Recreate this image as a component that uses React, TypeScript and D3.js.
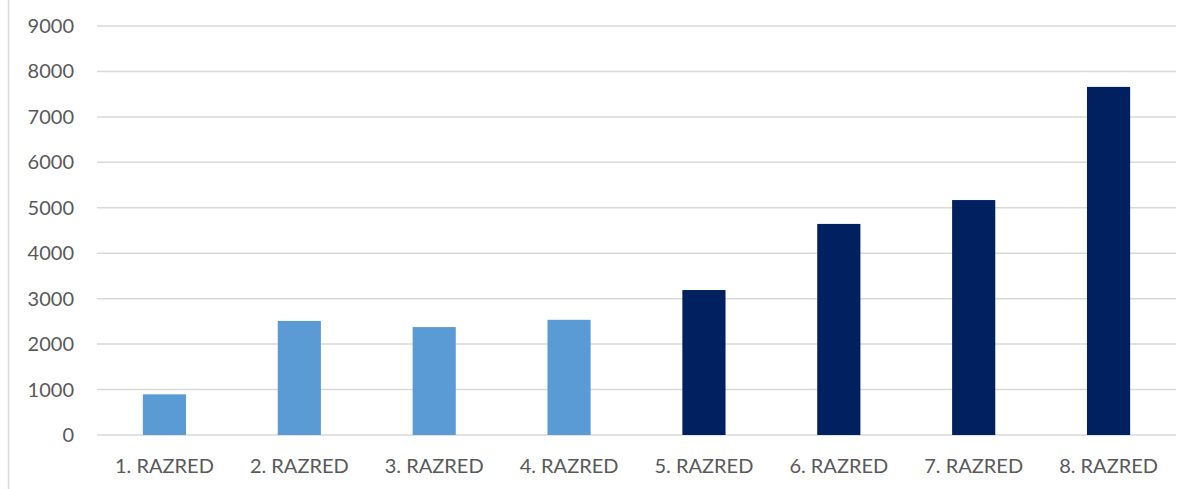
import React from "react";
import * as d3 from "d3";

const categories = ["1. RAZRED", "2. RAZRED", "3. RAZRED", "4. RAZRED", "5. RAZRED", "6. RAZRED", "7. RAZRED", "8. RAZRED"];
const values = [895, 2510, 2375, 2535, 3190, 4645, 5170, 7660];
const barColors = ["#5B9BD5", "#5B9BD5", "#5B9BD5", "#5B9BD5", "#002060", "#002060", "#002060", "#002060"];
const yTicks = [0, 1000, 2000, 3000, 4000, 5000, 6000, 7000, 8000, 9000];

const W = 1189;
const H = 489;
const left = 97;
const right = 1176;
const top = 26;
const bottom = 435;

export default function App() {
  const x = d3.scaleBand<string>().domain(categories).range([left, right]).paddingInner(0.68).paddingOuter(0.34);
  const y = d3.scaleLinear().domain([0, 9000]).range([bottom, top]);
  const font = "Lato, 'Open Sans', sans-serif";
  return (
    <svg width={W} height={H} style={{ position: "absolute", left: 0, top: 0, background: "#fff" }}>
      <line x1={8.5} x2={8.5} y1={0} y2={H} stroke="#d9d9d9" strokeWidth={1.5} />
      {yTicks.map((t) => (
        <g key={t}>
          <line x1={left} x2={right} y1={y(t)} y2={y(t)} stroke="#d9d9d9" strokeWidth={1.5} />
          <text x={74} y={y(t)} dy="0.35em" textAnchor="end" fontFamily={font} fontSize={20} fill="#595959">
            {t}
          </text>
        </g>
      ))}
      {categories.map((c, i) => (
        <rect key={c} x={x(c)} y={y(values[i])} width={x.bandwidth()} height={y(0) - y(values[i])} fill={barColors[i]} />
      ))}
      {categories.map((c) => (
        <text key={c} x={(x(c) as number) + x.bandwidth() / 2} y={473} textAnchor="middle" fontFamily={font} fontSize={20} fill="#595959">
          {c}
        </text>
      ))}
    </svg>
  );
}
